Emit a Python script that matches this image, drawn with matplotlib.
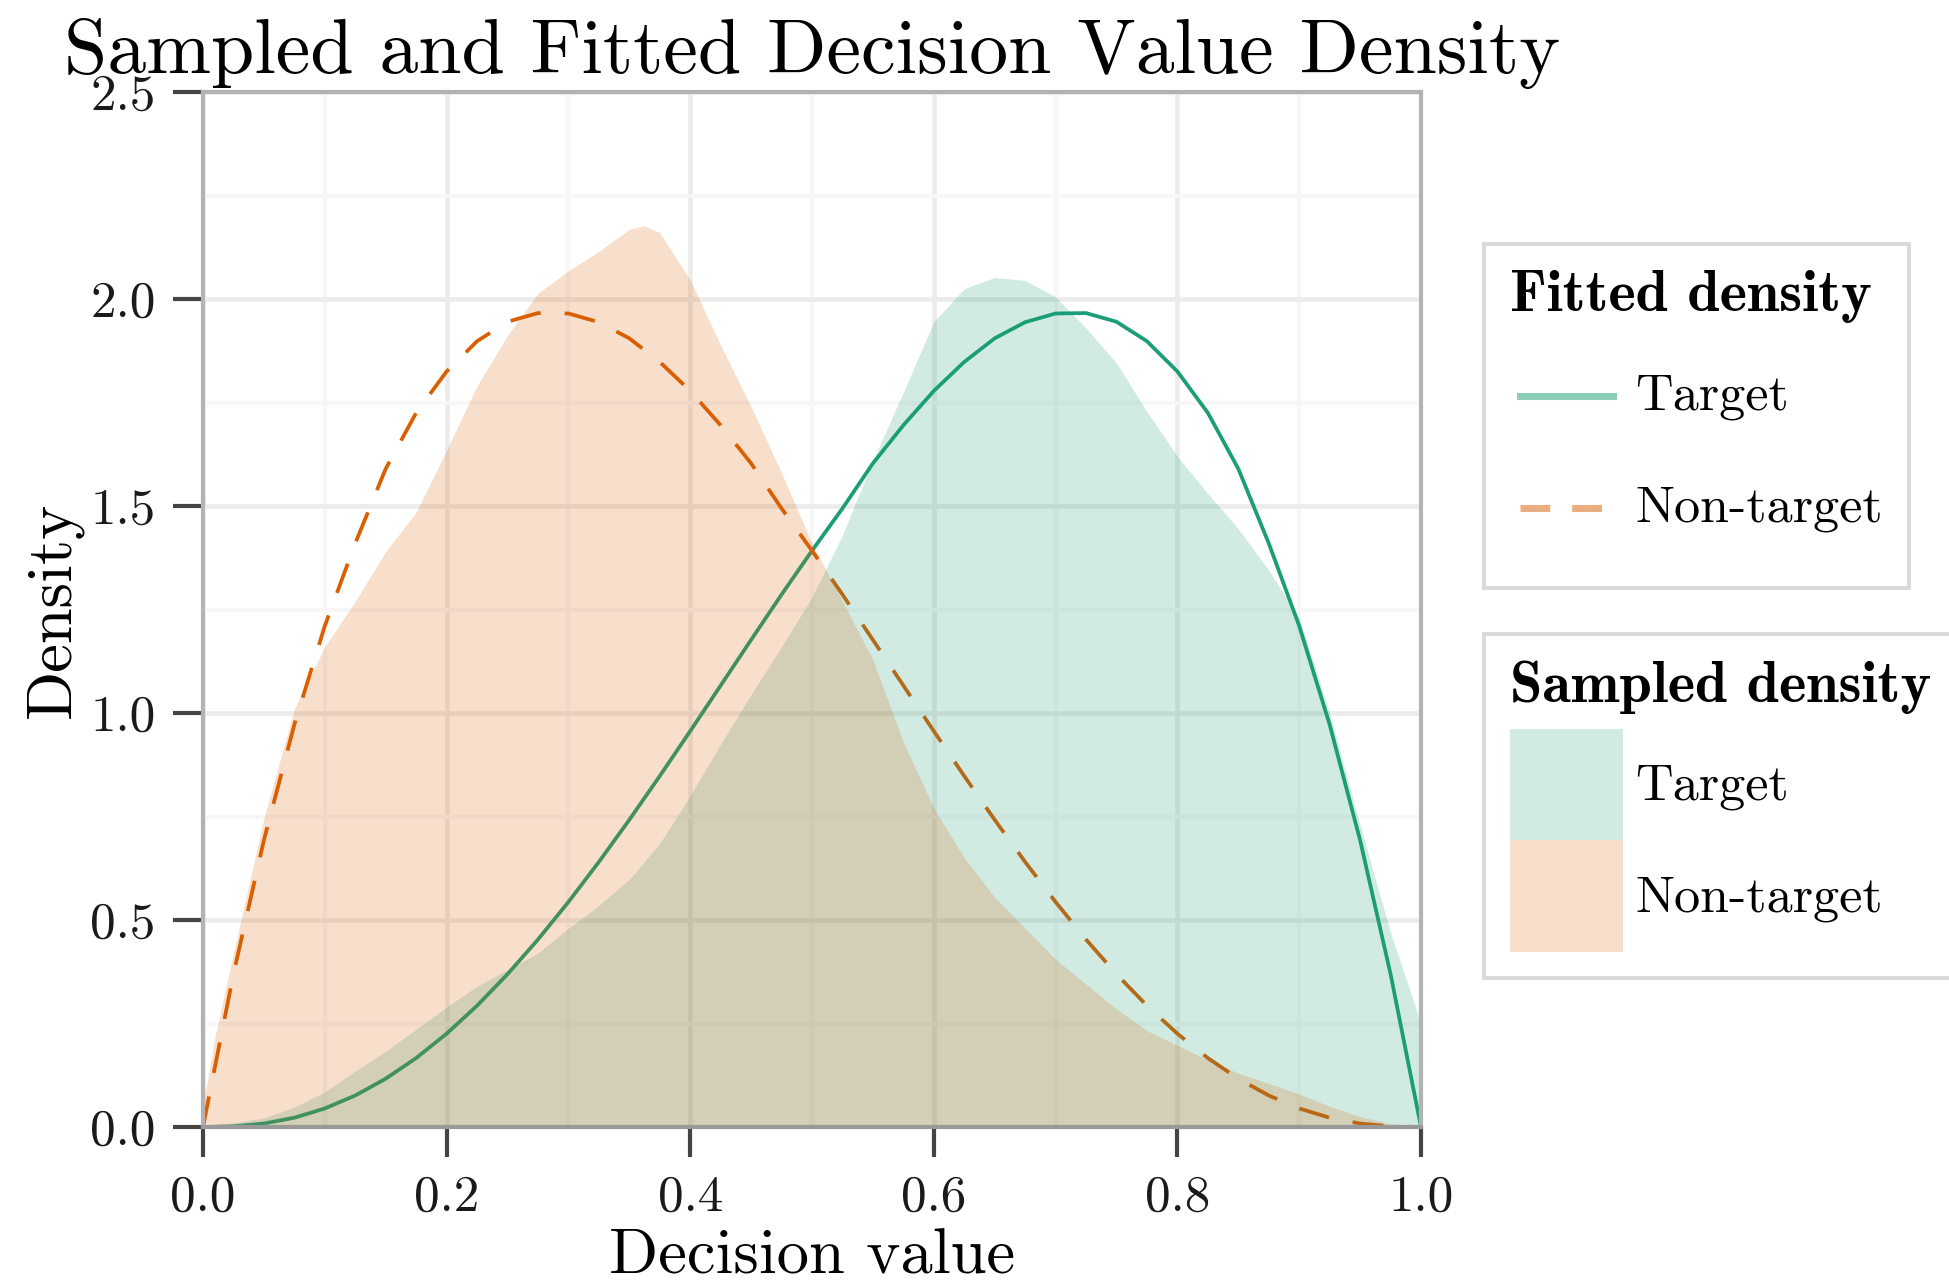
import numpy as np
import matplotlib
matplotlib.use("Agg")
import matplotlib.pyplot as plt
from matplotlib.lines import Line2D
from matplotlib.patches import Patch
from matplotlib.legend_handler import HandlerLine2D
from matplotlib.font_manager import FontProperties

plt.rcParams["font.family"] = ["cmr10", "DejaVu Serif"]
plt.rcParams["axes.formatter.use_mathtext"] = True

TARGET_COLOR = "#1b9e77"
NONTARGET_COLOR = "#d95f02"

# ---- data -----------------------------------------------------------------
series_labels = ["Target", "Non-target"]

fitted_x = [0.0, 0.025, 0.05, 0.075, 0.1, 0.125, 0.15, 0.175, 0.2, 0.225,
            0.25, 0.275, 0.3, 0.325, 0.35, 0.375, 0.4, 0.425, 0.45, 0.475,
            0.5, 0.525, 0.55, 0.575, 0.6, 0.625, 0.65, 0.675, 0.7, 0.725,
            0.75, 0.775, 0.8, 0.825, 0.85, 0.875, 0.9, 0.925, 0.95, 0.975, 1.0]

fitted_target = [0.0, 0.0015, 0.0084, 0.0224, 0.0448, 0.0761, 0.1167, 0.1665,
                 0.2254, 0.2931, 0.3691, 0.4528, 0.5435, 0.6402, 0.7419, 0.8477,
                 0.9562, 1.0664, 1.1767, 1.2861, 1.3921, 1.4941, 1.603, 1.695,
                 1.778, 1.848, 1.905, 1.944, 1.965, 1.966, 1.945, 1.898,
                 1.825, 1.725, 1.59, 1.4099, 1.2103, 0.9721, 0.6927, 0.3696,
                 0.0]

fitted_nontarget = [0.0, 0.3696, 0.6927, 0.9721, 1.2103, 1.4099, 1.59, 1.725,
                    1.825, 1.898, 1.945, 1.966, 1.965, 1.944, 1.905,
                    1.848, 1.778, 1.695, 1.603, 1.4941, 1.3921, 1.2861,
                    1.1767, 1.0664, 0.9562, 0.8477, 0.7419, 0.6402, 0.5435,
                    0.4528, 0.3691, 0.2931, 0.2254, 0.1665, 0.1167, 0.0761,
                    0.0448, 0.0224, 0.0084, 0.0015, 0.0]

sampled_target_x = fitted_x
sampled_target = [0.004, 0.010, 0.022, 0.048, 0.085, 0.135, 0.183, 0.236, 0.29,
                  0.34, 0.38, 0.42, 0.48, 0.535, 0.598, 0.685, 0.80, 0.925,
                  1.045, 1.16, 1.28, 1.43, 1.61, 1.775, 1.945, 2.025, 2.052,
                  2.045, 2.005, 1.93, 1.845, 1.728, 1.62, 1.53, 1.445, 1.345,
                  1.23, 1.0, 0.73, 0.47, 0.25]

sampled_nontarget_x = [0.0, 0.01, 0.025, 0.05, 0.075, 0.1, 0.125, 0.15, 0.175,
                       0.2, 0.225, 0.25, 0.275, 0.3, 0.325, 0.35, 0.3625, 0.375,
                       0.4, 0.425, 0.45, 0.475, 0.5, 0.525, 0.55, 0.575, 0.6,
                       0.625, 0.65, 0.675, 0.7, 0.725, 0.75, 0.775, 0.8, 0.825,
                       0.85, 0.875, 0.9, 0.925, 0.95, 0.975, 1.0]
sampled_nontarget = [0.05, 0.22, 0.42, 0.745, 1.01, 1.16, 1.27, 1.39, 1.485,
                     1.635, 1.79, 1.912, 2.014, 2.068, 2.115, 2.168, 2.177, 2.16,
                     2.046, 1.888, 1.74, 1.58, 1.41, 1.27, 1.128, 0.93, 0.77,
                     0.65, 0.555, 0.48, 0.405, 0.345, 0.285, 0.233, 0.197, 0.162,
                     0.13, 0.105, 0.08, 0.05, 0.025, 0.008, 0.002]

x_ticks = [0.0, 0.2, 0.4, 0.6, 0.8, 1.0]
x_tick_labels = ["0.0", "0.2", "0.4", "0.6", "0.8", "1.0"]
x_minor_ticks = [0.1, 0.3, 0.5, 0.7, 0.9]
y_ticks = [0.0, 0.5, 1.0, 1.5, 2.0, 2.5]
y_tick_labels = ["0.0", "0.5", "1.0", "1.5", "2.0", "2.5"]
y_minor_ticks = [0.25, 0.75, 1.25, 1.75, 2.25]


class CenteredLineHandler(HandlerLine2D):
    """Line legend key drawn level with the middle of its label text."""

    def __init__(self, drop=0.0, **kwargs):
        super().__init__(**kwargs)
        self._drop = drop

    def create_artists(self, legend, orig_handle, xdescent, ydescent, width,
                       height, fontsize, trans):
        artists = super().create_artists(legend, orig_handle, xdescent, ydescent,
                                         width, height, fontsize, trans)
        for artist in artists:
            ydata = np.asarray(artist.get_ydata(), dtype=float)
            artist.set_ydata(ydata - self._drop * fontsize)
        return artists


# ---- figure ---------------------------------------------------------------
W, H, DPI = 1949, 1283, 300
fig = plt.figure(figsize=(W / DPI, H / DPI), dpi=DPI)
ax = fig.add_axes([203 / W, 1 - 1127 / H, (1421 - 203) / W, (1127 - 92) / H])

# fitted curves sit underneath the translucent sampled densities
ax.plot(fitted_x, fitted_target, color=TARGET_COLOR, lw=0.9, zorder=1.5)
ax.plot(fitted_x, fitted_nontarget, color=NONTARGET_COLOR, lw=0.9,
        dashes=(8.3, 6.4), zorder=1.5)
ax.fill_between(sampled_target_x, 0, sampled_target, color=TARGET_COLOR,
                alpha=0.2, lw=0, zorder=2)
ax.fill_between(sampled_nontarget_x, 0, sampled_nontarget, color=NONTARGET_COLOR,
                alpha=0.2, lw=0, zorder=2.1)

ax.set_xlim(0, 1)
ax.set_ylim(0, 2.5)
ax.set_xticks(x_ticks)
ax.set_xticklabels(x_tick_labels)
ax.set_yticks(y_ticks)
ax.set_yticklabels(y_tick_labels)
ax.set_xticks(x_minor_ticks, minor=True)
ax.set_yticks(y_minor_ticks, minor=True)

ax.set_axisbelow(True)
ax.grid(which="major", color="#ebebeb", lw=1.1)
ax.grid(which="minor", color="#f7f7f7", lw=1.0)

for side, spine in ax.spines.items():
    spine.set_linewidth(1.0)
    spine.set_color("#999999" if side == "bottom" else "#b3b3b3")

ax.tick_params(which="major", direction="out", length=7.1, width=1.0,
               color="#444444", pad=4.3, labelsize=12.3, labelcolor="#1a1a1a")
ax.tick_params(which="minor", length=0)

ax.set_title("Sampled and Fitted Decision Value Density", fontsize=18.7, pad=4.6)
ax.set_xlabel("Decision value", fontsize=15.5)
ax.set_ylabel("Density", fontsize=15.5)
ax.xaxis.set_label_coords(0.5, -0.098)
ax.yaxis.set_label_coords(-0.0985, 0.5)

# ---- legends --------------------------------------------------------------
legend_kw = dict(loc="upper left", borderaxespad=0, alignment="left",
                 fontsize=12.5, handlelength=2.17, handleheight=2.93,
                 labelspacing=0, handletextpad=0.24, borderpad=0.5,
                 fancybox=False, framealpha=1, edgecolor="#d9d9d9",
                 bbox_transform=fig.transFigure)
title_font = FontProperties(family="cmb10", size=14)
legend_left = 1484 / W

fitted_handles = [
    Line2D([], [], color=TARGET_COLOR, alpha=0.5, lw=1.7),
    Line2D([], [], color=NONTARGET_COLOR, alpha=0.5, lw=1.7, dashes=(4.2, 3.1)),
]
leg1 = fig.legend(fitted_handles, series_labels, title="Fitted density",
                  title_fontproperties=title_font,
                  bbox_to_anchor=(legend_left, 1 - 244 / H), numpoints=2,
                  handler_map={Line2D: CenteredLineHandler(drop=0.43,
                                                           marker_pad=0.2)},
                  **legend_kw)

sampled_handles = [
    Patch(facecolor=TARGET_COLOR, alpha=0.2, lw=0),
    Patch(facecolor=NONTARGET_COLOR, alpha=0.2, lw=0),
]
leg2 = fig.legend(sampled_handles, series_labels, title="Sampled density",
                  title_fontproperties=title_font,
                  bbox_to_anchor=(legend_left, 1 - 634 / H), **legend_kw)

for leg in (leg1, leg2):
    leg.get_frame().set_linewidth(0.9)
    if hasattr(leg, "_legend_box"):
        leg._legend_box.sep = 3.6

fig.savefig("out.png", dpi=DPI)
